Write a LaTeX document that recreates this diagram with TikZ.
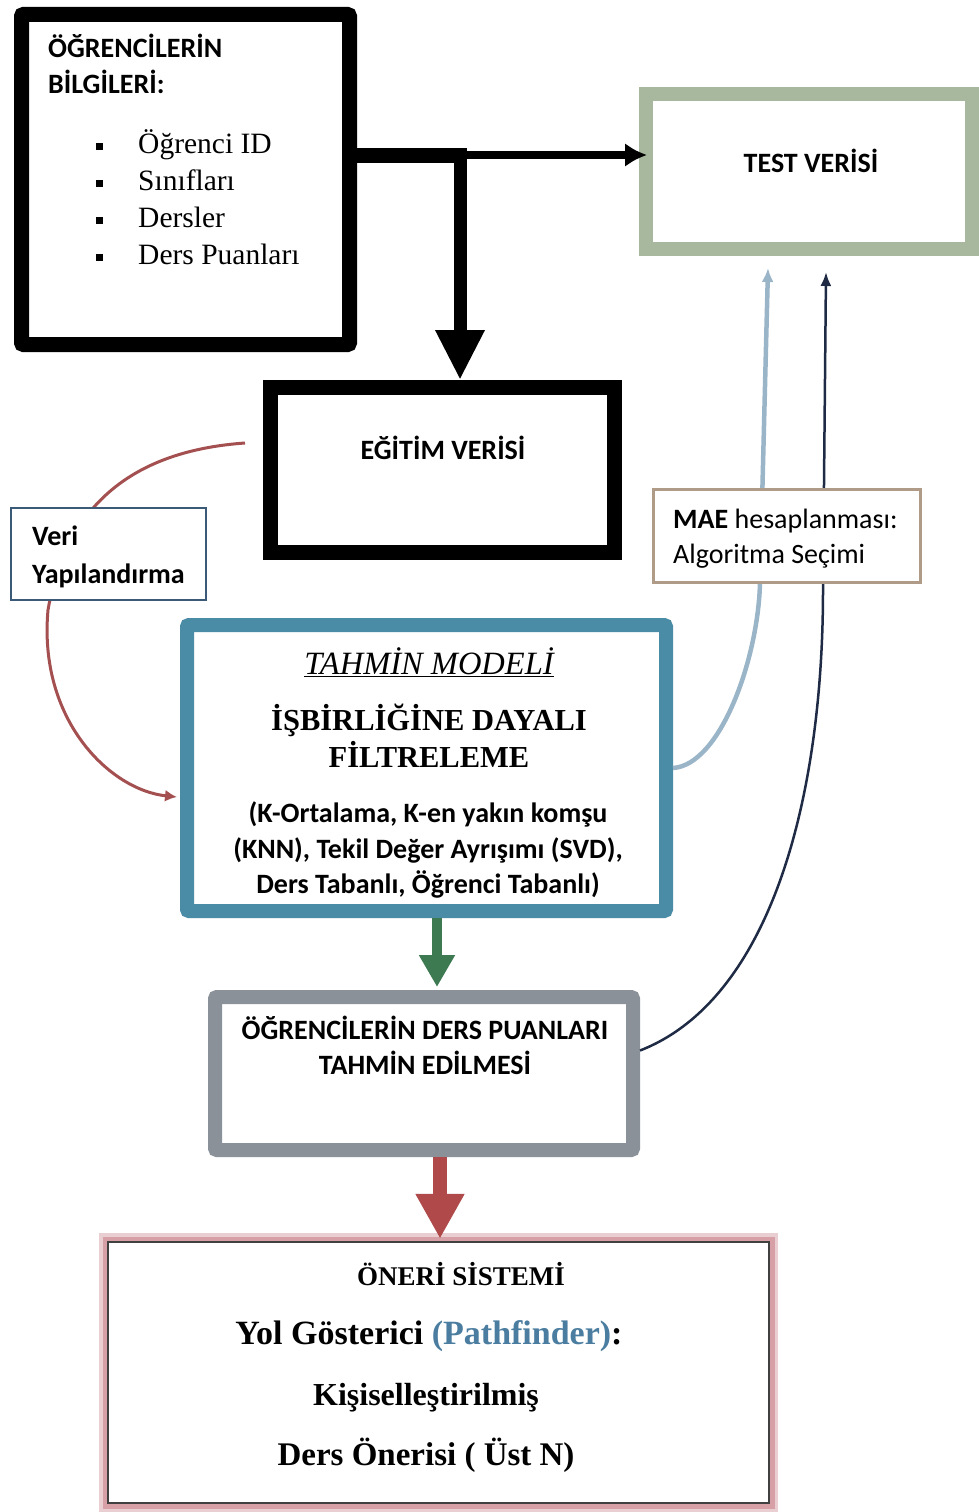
\documentclass[tikz,border=0pt]{standalone}
\usepackage{fontspec}
\setmainfont{Liberation Serif}
\newfontfamily\calibri{Carlito}
\usepackage{tikz}
\usetikzlibrary{positioning}
\usetikzlibrary{arrows.meta}
\usetikzlibrary{calc}

\definecolor{testgreen}{RGB}{168,184,158}
\definecolor{modelblue}{RGB}{74,139,165}
\definecolor{predgray}{RGB}{138,145,153}
\definecolor{arrowgreen}{RGB}{61,122,82}
\definecolor{arrowred}{RGB}{176,74,74}
\definecolor{curvered}{RGB}{164,80,80}
\definecolor{steel}{RGB}{155,181,200}
\definecolor{navy}{RGB}{31,42,68}
\definecolor{veriframe}{RGB}{58,90,120}
\definecolor{maeframe}{RGB}{176,154,136}
\definecolor{glow}{RGB}{214,160,166}
\definecolor{pathblue}{RGB}{74,125,160}

\begin{document}
\begin{tikzpicture}[x=1pt, y=-1pt, >=latex,
  box/.style={draw, fill=white, line width=#1, inner sep=0pt},
  box/.default=15pt,
  cal/.style={font=\calibri\bfseries\fontsize{28}{35}\selectfont, align=center, inner sep=0pt},
  ser/.style={font=\fontsize{29.5}{34}\selectfont, anchor=base west, inner sep=0pt},
  bullet/.style={fill, minimum size=7pt, inner sep=0pt}]

\useasboundingbox (0,0) rectangle (979,1512);

% boxes
\node [box, rounded corners=2pt, minimum width=328pt, minimum height=330pt] (st) at (185.5,179.5) {};
\node [box=14pt, draw=testgreen, minimum width=326pt, minimum height=155pt] (test) at (809,171.5) {};
\node [box, minimum width=344pt, minimum height=165pt] (train) at (442.5,470) {};
\node [box=14pt, draw=modelblue, rounded corners=2pt, minimum width=479pt, minimum height=286pt] (model) at (426.5,768) {};
\node [box=14pt, draw=predgray, rounded corners=2pt, minimum width=418pt, minimum height=153pt] (pred) at (424,1073.5) {};

% student info
\node [cal, anchor=base west] (sthead) at (48,58) {ÖĞRENCİLERİN};
\node [cal, anchor=base west] (sthead2) at (48,93) {BİLGİLERİ:};
\foreach \txt [count=\i] in {Öğrenci ID, Sınıfları, Dersler, Ders Puanları} {
  \node [bullet] (b\i) at (99,{146+37*(\i-1)}) {};
  \node [ser] (item\i) at (138,{153+37*(\i-1)}) {\txt};
}

\node [cal] (testtxt) at (811,161) {TEST VERİSİ};
\node [cal] (traintxt) at (443,448) {EĞİTİM VERİSİ};

% arrows from student info
\coordinate (split) at (460,155);
\draw [line width=8pt, -{Latex[length=22pt,width=24pt]}] (split) -- ([xshift=8pt]test.west |- split);
\draw [line width=15pt] (st.east |- split) -- ([xshift=7pt]split);
\draw [line width=13pt, -{Triangle[length=50pt,width=46pt]}] ([yshift=-7.5pt]split) -- (split |- train.north);

% red curve to model
\coordinate (rs) at (245,443);
\draw [curvered, line width=3pt, -{Latex[length=12pt,width=12pt]}] (rs) .. controls (145,450) and (68,495) .. (48,610)
  .. controls (38,720) and (110,790) .. ([yshift=-29pt,xshift=-3pt]model.west);
\node [box=2.5pt, draw=veriframe, minimum width=195pt, minimum height=92pt] (veri) at (108.5,554) {};
\node [cal, anchor=base west] (veritxt) at (32,545) {Veri};
\node [cal, anchor=base west] (veritxt2) at (32,583) {Yapılandırma};

% model text
\node [font=\fontsize{32.5}{36}\selectfont\itshape, inner sep=0pt] (modelhead) at (429,662) {\underline{TAHMİN MODELİ}};
\node [font=\bfseries\fontsize{30.5}{37}\selectfont, align=center, inner sep=0pt] (cf) at (429,736) {İŞBİRLİĞİNE DAYALI\\FİLTRELEME};
\node [cal, font=\calibri\bfseries\fontsize{28}{35.5}\selectfont] (algs) at (428,850) {(K-Ortalama, K-en yakın komşu\\(KNN), Tekil Değer Ayrışımı (SVD),\\Ders Tabanlı, Öğrenci Tabanlı)};

% MAE curves
\draw [steel, line width=4.5pt, -{Latex[length=14pt,width=12pt]}] (model.east) .. controls (720,765) and (758,660) .. (760,583)
  -- (768,268);
\draw [navy, line width=2.5pt, -{Latex[length=14pt,width=11pt]}] ([yshift=23pt]pred.east) .. controls (770,1000) and (823,800) .. (823,590)
  -- (826,272);
\node [box=3pt, draw=maeframe, minimum width=267pt, minimum height=93pt] (mae) at (786.5,535.5) {};
\node [cal, anchor=base west, font=\calibri\fontsize{28}{35}\selectfont] (maetxt) at (673,528) {\textbf{MAE} hesaplanması:};
\node [cal, anchor=base west, font=\calibri\fontsize{28}{35}\selectfont] (maetxt2) at (673,563) {Algoritma Seçimi};

% prediction
\coordinate (gtop) at ([xshift=10.5pt]model.south);
\draw [arrowgreen, line width=10pt, -{Triangle[length=32pt,width=34pt]}] (gtop) -- ([yshift=3pt]gtop |- pred.north);
\node [cal] (predtxt) at (425,1045) {ÖĞRENCİLERİN DERS PUANLARI\\TAHMİN EDİLMESİ};

% recommendation
\node [draw=glow!50, line width=16pt, minimum width=663pt, minimum height=263pt] (glow1) at (438.5,1372.5) {};
\node [draw=glow, line width=9pt, minimum width=663pt, minimum height=263pt] (glow2) at (438.5,1372.5) {};
\node [box=2.5pt, draw=black!75, minimum width=661pt, minimum height=261pt] (rec) at (438.5,1372.5) {};
\coordinate (rtop) at ([xshift=16pt]pred.south);
\draw [arrowred, line width=14pt, -{Triangle[length=45pt,width=46pt]}] (rtop) -- ([yshift=2pt]rtop |- rec.north);
\node [font=\bfseries\fontsize{27}{30}\selectfont, inner sep=0pt] (rechead) at (461,1274) {ÖNERİ SİSTEMİ};
\node [font=\bfseries\fontsize{34}{38}\selectfont, inner sep=0pt] (path) at (429,1336) {Yol Gösterici \textcolor{pathblue}{(Pathfinder)}:};
\node [font=\bfseries\fontsize{32}{36}\selectfont, inner sep=0pt] (pers) at (426,1398) {Kişiselleştirilmiş};
\node [font=\bfseries\fontsize{33}{38}\selectfont, inner sep=0pt] (top) at (426,1455) {Ders Önerisi ( Üst N)};

\end{tikzpicture}
\end{document}
